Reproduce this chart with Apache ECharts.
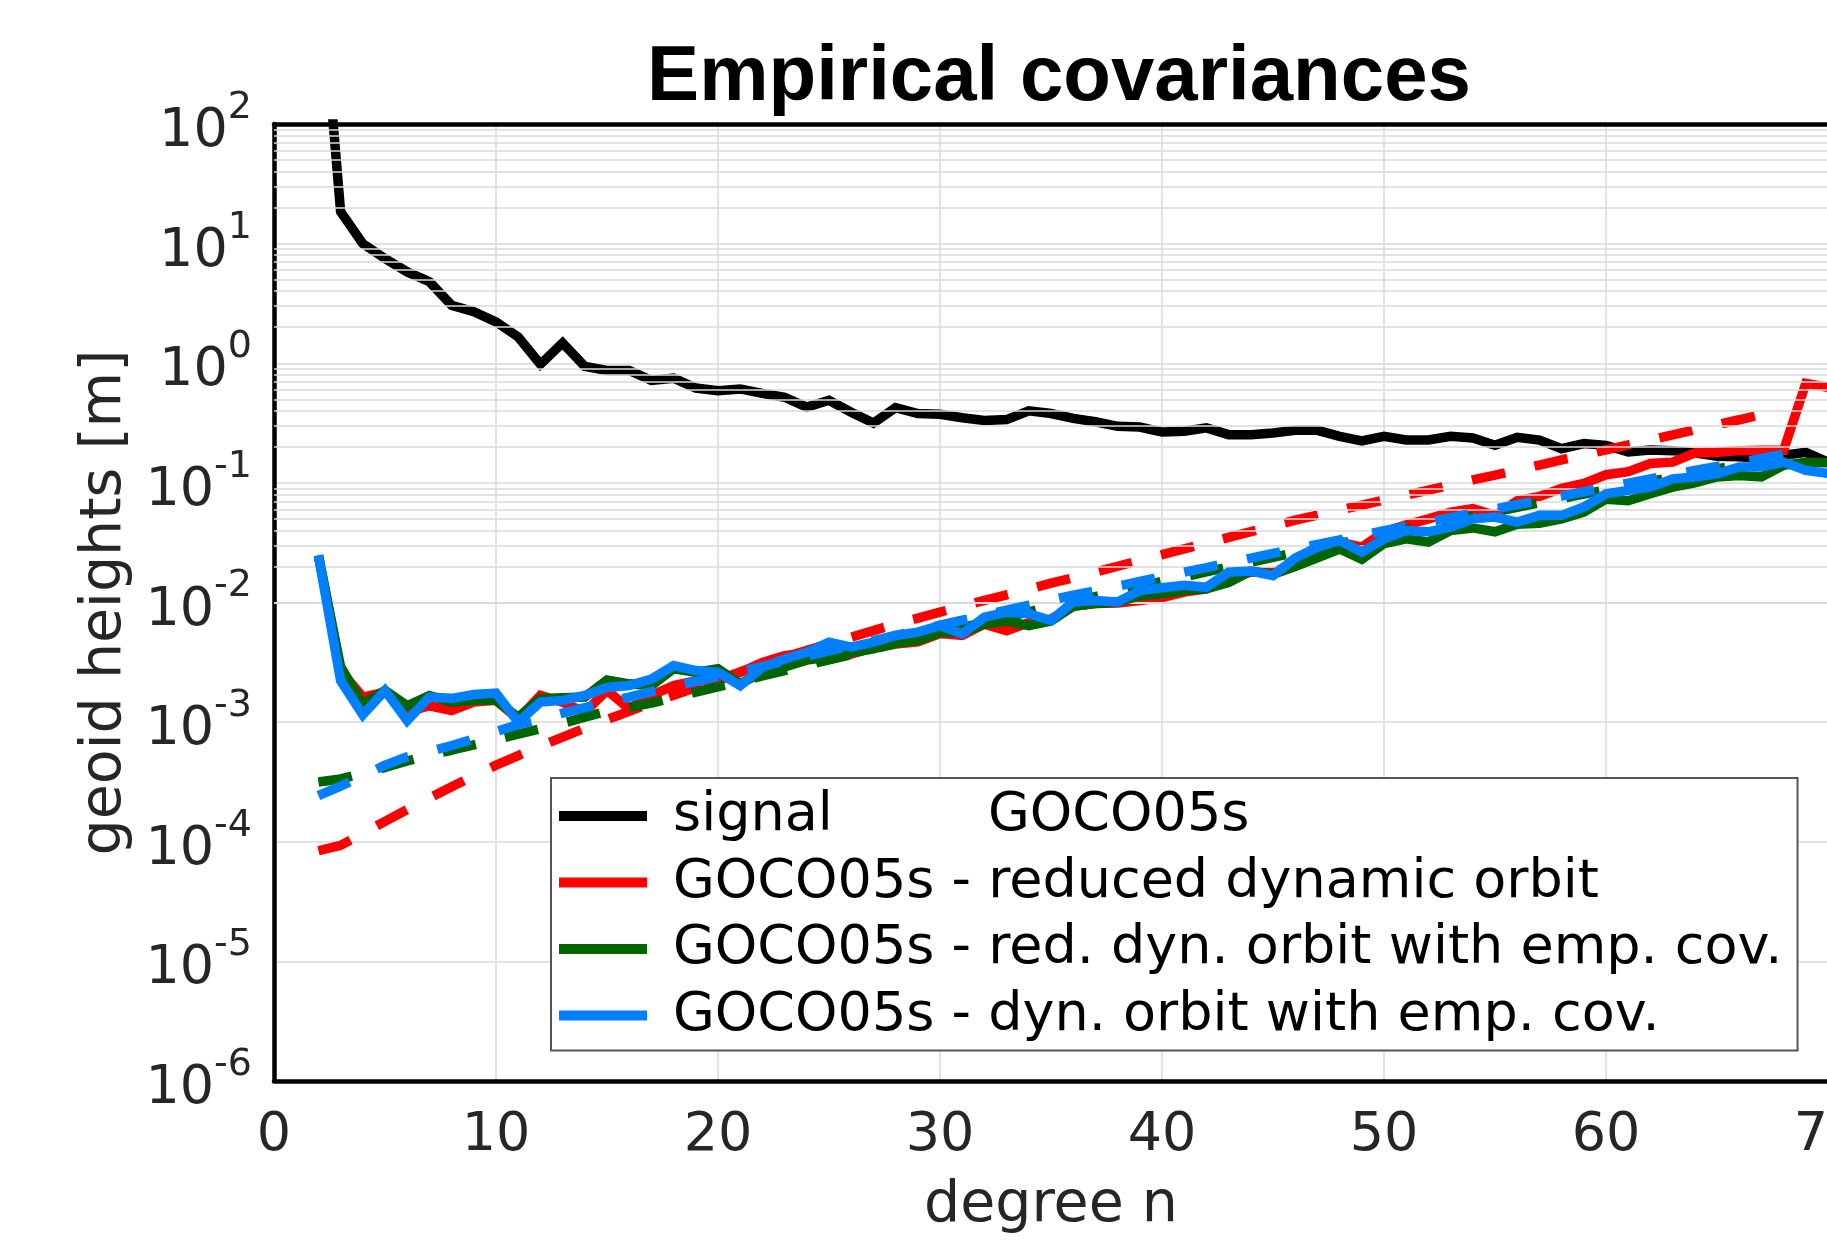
<!DOCTYPE html>
<html>
<head>
<meta charset="utf-8">
<title>Empirical covariances</title>
<script src="https://cdn.jsdelivr.net/npm/echarts@6/dist/echarts.min.js"></script>
<style>
  html, body { margin: 0; padding: 0; background: #fff; }
  #chart { width: 1827px; height: 1243px; }
</style>
</head>
<body>
<div id="chart"></div>
<script>
// degree n
const degrees = [2, 3, 4, 5, 6, 7, 8, 9, 10, 11, 12, 13, 14, 15, 16, 17, 18, 19, 20,
  21, 22, 23, 24, 25, 26, 27, 28, 29, 30, 31, 32, 33, 34, 35, 36, 37, 38, 39, 40,
  41, 42, 43, 44, 45, 46, 47, 48, 49, 50, 51, 52, 53, 54, 55, 56, 57, 58, 59, 60,
  61, 62, 63, 64, 65, 66, 67, 68, 69, 70];

// geoid heights [m], solid curves (n = 2..70)
const signalGoco = [3000, 18.5, 10.0, 7.5, 5.8, 4.8, 3.05, 2.7, 2.22, 1.66, 0.98, 1.48,
  0.94, 0.87, 0.87, 0.72, 0.75, 0.62, 0.59, 0.61, 0.56, 0.52, 0.43, 0.49, 0.39, 0.316,
  0.425, 0.38, 0.374, 0.35, 0.333, 0.338, 0.40, 0.38, 0.346, 0.324, 0.297, 0.293, 0.266,
  0.27, 0.288, 0.253, 0.253, 0.261, 0.275, 0.275, 0.245, 0.224, 0.245, 0.228, 0.228,
  0.245, 0.237, 0.206, 0.24, 0.228, 0.193, 0.213, 0.206, 0.181, 0.188, 0.186, 0.178,
  0.167, 0.165, 0.16, 0.17, 0.18, 0.149];

const reducedDyn = [0.0247, 0.0027, 0.00162, 0.00178, 0.00121, 0.00137, 0.00125, 0.00147,
  0.00152, 0.00106, 0.00167, 0.00147, 0.00121, 0.00184, 0.00129, 0.00167, 0.00202,
  0.00222, 0.00222, 0.00261, 0.00316, 0.0036, 0.0038, 0.0034, 0.0037, 0.0042, 0.0045,
  0.0047, 0.0055, 0.0053, 0.0066, 0.0058, 0.0068, 0.0073, 0.0093, 0.0098, 0.0099, 0.0104,
  0.011, 0.0122, 0.013, 0.0159, 0.0179, 0.0179, 0.021, 0.028, 0.032, 0.029, 0.039,
  0.0446, 0.05, 0.057, 0.061, 0.0535, 0.071, 0.077, 0.09, 0.099, 0.117, 0.124, 0.145,
  0.149, 0.178, 0.18, 0.186, 0.187, 0.187, 0.68, 0.63];

const reducedDynCov = [0.0247, 0.0029, 0.00142, 0.00184, 0.00137, 0.00167, 0.00147,
  0.00152, 0.00152, 0.0011, 0.00157, 0.0016, 0.00162, 0.00225, 0.00209, 0.00202, 0.00279,
  0.00261, 0.00279, 0.00209, 0.00261, 0.0029, 0.0033, 0.0035, 0.0038, 0.0041, 0.0046,
  0.0048, 0.0056, 0.0056, 0.0066, 0.0070, 0.0064, 0.0070, 0.0093, 0.0098, 0.0101, 0.0114,
  0.0118, 0.0126, 0.013, 0.0147, 0.0183, 0.0172, 0.0200, 0.0236, 0.028, 0.023, 0.031,
  0.034, 0.032, 0.04, 0.042, 0.039, 0.045, 0.046, 0.05, 0.057, 0.073, 0.071, 0.081,
  0.092, 0.10, 0.112, 0.115, 0.112, 0.14, 0.149, 0.147];

const dynCov = [0.0247, 0.00222, 0.00115, 0.00184, 0.00103, 0.00162, 0.00158, 0.0017,
  0.00175, 0.001, 0.00147, 0.00152, 0.00167, 0.00195, 0.00202, 0.00229, 0.00297, 0.0027,
  0.00261, 0.00202, 0.00288, 0.00337, 0.00384, 0.00466, 0.00423, 0.00466, 0.0053,
  0.00565, 0.00643, 0.00547, 0.00754, 0.0083, 0.00805, 0.00708, 0.0101, 0.0104, 0.0101,
  0.0126, 0.0133, 0.0139, 0.0134, 0.0179, 0.0183, 0.0168, 0.0235, 0.029, 0.033, 0.0264,
  0.034, 0.04, 0.039, 0.0427, 0.05, 0.0518, 0.047, 0.0535, 0.0535, 0.0628, 0.081,
  0.0866, 0.092, 0.108, 0.112, 0.119, 0.136, 0.136, 0.149, 0.127, 0.12];

// dashed curves (n = 2..68)
const reducedDynDashed = [8.41e-5, 9.33e-5, 1.175e-4, 1.48e-4, 1.86e-4, 2.32e-4, 2.88e-4,
  3.55e-4, 4.37e-4, 5.25e-4, 6.31e-4, 7.5e-4, 8.91e-4, 1.05e-3, 1.23e-3, 1.45e-3,
  1.68e-3, 1.95e-3, 2.26e-3, 2.63e-3, 3.02e-3, 3.47e-3, 3.98e-3, 4.52e-3, 5.13e-3,
  5.82e-3, 6.61e-3, 7.41e-3, 8.32e-3, 9.29e-3, 1.04e-2, 1.16e-2, 1.29e-2, 1.45e-2,
  1.61e-2, 1.80e-2, 2.01e-2, 2.25e-2, 2.51e-2, 2.81e-2, 3.13e-2, 3.50e-2, 3.91e-2,
  4.37e-2, 4.88e-2, 5.37e-2, 5.92e-2, 6.52e-2, 7.18e-2, 7.91e-2, 8.71e-2, 9.59e-2,
  0.106, 0.116, 0.128, 0.141, 0.156, 0.171, 0.189, 0.208, 0.229, 0.252, 0.278, 0.306,
  0.337, 0.372, 0.407];

const reducedDynCovDashed = [3.16e-4, 3.35e-4, 3.72e-4, 4.17e-4, 4.73e-4, 5.31e-4,
  5.82e-4, 6.46e-4, 7.16e-4, 7.94e-4, 8.81e-4, 9.77e-4, 1.10e-3, 1.23e-3, 1.33e-3,
  1.44e-3, 1.60e-3, 1.78e-3, 1.97e-3, 2.19e-3, 2.43e-3, 2.69e-3, 2.99e-3, 3.31e-3,
  3.67e-3, 4.07e-3, 4.52e-3, 5.01e-3, 5.56e-3, 6.17e-3, 6.82e-3, 7.55e-3, 8.36e-3,
  9.25e-3, 1.02e-2, 1.12e-2, 1.24e-2, 1.36e-2, 1.50e-2, 1.64e-2, 1.80e-2, 1.98e-2,
  2.17e-2, 2.38e-2, 2.61e-2, 2.85e-2, 3.12e-2, 3.41e-2, 3.73e-2, 4.07e-2, 4.45e-2,
  4.84e-2, 5.27e-2, 5.74e-2, 6.25e-2, 6.81e-2, 7.40e-2, 8.04e-2, 8.73e-2, 9.48e-2,
  0.103, 0.111, 0.121, 0.131, 0.141, 0.153, 0.165];

const dynCovDashed = [2.43e-4, 2.92e-4, 3.55e-4, 4.37e-4, 5.13e-4, 5.69e-4, 6.38e-4,
  7.24e-4, 8.32e-4, 9.55e-4, 1.06e-3, 1.19e-3, 1.32e-3, 1.46e-3, 1.62e-3, 1.80e-3,
  2.00e-3, 2.19e-3, 2.40e-3, 2.65e-3, 2.92e-3, 3.23e-3, 3.56e-3, 3.94e-3, 4.35e-3,
  4.80e-3, 5.30e-3, 5.85e-3, 6.46e-3, 7.11e-3, 7.83e-3, 8.63e-3, 9.51e-3, 1.05e-2,
  1.15e-2, 1.25e-2, 1.37e-2, 1.50e-2, 1.64e-2, 1.79e-2, 1.96e-2, 2.15e-2, 2.35e-2,
  2.57e-2, 2.81e-2, 3.06e-2, 3.34e-2, 3.65e-2, 3.98e-2, 4.34e-2, 4.72e-2, 5.13e-2,
  5.57e-2, 6.05e-2, 6.58e-2, 7.14e-2, 7.76e-2, 8.43e-2, 9.16e-2, 9.95e-2, 0.108, 0.117,
  0.127, 0.137, 0.148, 0.160, 0.173];

const legendNames = [
  'signal',
  'GOCO05s - reduced dynamic orbit',
  'GOCO05s - red. dyn. orbit with emp. cov.',
  'GOCO05s - dyn. orbit with emp. cov.'
];

// log grid: minor lines 2..9 x 10^k
const minorGrid = [];
for (let k = -6; k <= 1; k++) {
  for (let m = 2; m <= 9; m++) minorGrid.push({ yAxis: m * Math.pow(10, k) });
}

const font = 'DejaVu Sans';
const gridColor = '#d9d9d9';
const lineW = 9.5;

const pairs = (vals) => vals.map((v, i) => [degrees[i], v]);

const solid = (name, color, vals, z) => ({
  name, type: 'line', data: pairs(vals), z,
  showSymbol: false, symbol: 'none', clip: true,
  itemStyle: { color },
  lineStyle: { color, width: lineW, cap: 'butt', join: 'miter' }
});
const dashed = (name, color, vals, z) => ({
  name, type: 'line', data: pairs(vals), z,
  showSymbol: false, symbol: 'none', clip: true,
  itemStyle: { color },
  lineStyle: { color, width: lineW, type: [34, 30], cap: 'butt' }
});

const chart = echarts.init(document.getElementById('chart'));
chart.setOption({
  animation: false,
  backgroundColor: '#fff',
  title: {
    text: 'Empirical covariances',
    left: 1054, top: 34, textAlign: 'center',
    textStyle: { fontFamily: 'Liberation Sans', fontWeight: 'bold', fontSize: 78, lineHeight: 78, color: '#000' }
  },
  grid: { left: 274, top: 124, width: 1554, height: 957, containLabel: false, outerBoundsMode: 'none' },
  legend: {
    data: legendNames,
    orient: 'vertical',
    left: 551, top: 778,
    padding: [8, 15, 5, 8],
    itemGap: 6.5,
    itemWidth: 88, itemHeight: 10,
    icon: 'rect',
    backgroundColor: '#fff',
    borderColor: '#555',
    borderWidth: 2,
    itemStyle: { borderWidth: 0 },
    selectedMode: false,
    formatter: (name) => '{p| }' + (name === 'signal' ? '{a|signal}GOCO05s' : name),
    textStyle: {
      fontFamily: font, fontSize: 54, lineHeight: 60, color: '#000',
      rich: {
        p: { width: 21, fontFamily: font, fontSize: 54, lineHeight: 60 },
        a: { width: 315, fontFamily: font, fontSize: 54, lineHeight: 60, color: '#000' }
      }
    }
  },
  xAxis: [{
    type: 'value', min: 0, max: 70, interval: 10, position: 'bottom',
    axisLine: { show: true, onZero: false, lineStyle: { color: '#000', width: 4.5 } },
    axisTick: { show: false },
    axisLabel: { color: '#262626', fontFamily: font, fontSize: 54, margin: 28 },
    splitLine: { show: true, lineStyle: { color: gridColor, width: 1.5 } },
    name: 'degree n', nameLocation: 'middle', nameGap: 97,
    nameTextStyle: { color: '#262626', fontFamily: font, fontSize: 57 }
  }, {
    type: 'value', min: 0, max: 70, position: 'top',
    axisLine: { show: true, onZero: false, lineStyle: { color: '#000', width: 4.5 } },
    axisTick: { show: false }, axisLabel: { show: false }, splitLine: { show: false }
  }],
  yAxis: {
    type: 'log', logBase: 10, min: 1e-6, max: 100, splitNumber: 8,
    axisLine: { show: true, onZero: false, lineStyle: { color: '#000', width: 4.5 } },
    axisTick: { show: false },
    axisLabel: {
      margin: 22, color: '#262626',
      formatter: (v) => '{b|10}{s|' + Math.round(Math.log10(v)) + '}',
      rich: {
        b: { fontFamily: font, fontSize: 54, color: '#262626', padding: [16, 0, 0, 0] },
        s: { fontFamily: font, fontSize: 38, color: '#262626', verticalAlign: 'top' }
      }
    },
    splitLine: { show: true, lineStyle: { color: gridColor, width: 1.5 } },
    name: 'geoid heights [m]', nameLocation: 'middle', nameGap: 140,
    nameTextStyle: { color: '#262626', fontFamily: font, fontSize: 57 }
  },
  series: [
    {
      name: 'minor grid', type: 'line', data: [], z: 1, silent: true,
      markLine: {
        silent: true, symbol: ['none', 'none'], animation: false,
        label: { show: false },
        lineStyle: { color: gridColor, width: 1.5, type: 'solid' },
        emphasis: { disabled: true },
        data: minorGrid
      }
    },
    solid('signal', '#000000', signalGoco, 2),
    dashed('fit reduced dynamic orbit', '#ff0000', reducedDynDashed, 3),
    solid(legendNames[1], '#ff0000', reducedDyn, 4),
    dashed('fit red. dyn. orbit with emp. cov.', '#006400', reducedDynCovDashed, 5),
    solid(legendNames[2], '#006400', reducedDynCov, 6),
    dashed('fit dyn. orbit with emp. cov.', '#0080ff', dynCovDashed, 7),
    solid(legendNames[3], '#0080ff', dynCov, 8)
  ]
});
</script>
</body>
</html>
